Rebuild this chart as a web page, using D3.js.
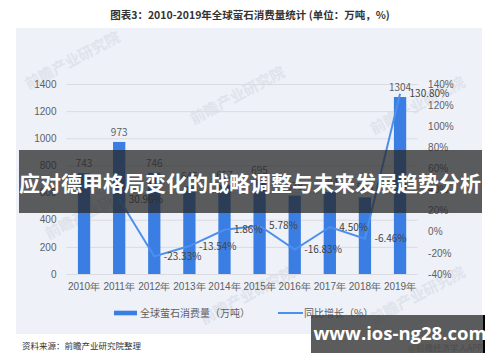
<!DOCTYPE html>
<html>
<head>
<meta charset="utf-8">
<script src="https://cdn.jsdelivr.net/npm/d3@7"></script>
<style>
  html, body { margin: 0; padding: 0; background: #fff; }
  svg { display: block; font-family: "Noto Sans CJK SC", "Noto Sans", sans-serif; }
</style>
</head>
<body>
<div id="chart"></div>
<script>
// 2010-2019 global fluorite consumption (万吨) and YoY growth (%)
const years = ["2010年", "2011年", "2012年", "2013年", "2014年", "2015年", "2016年", "2017年", "2018年", "2019年"];
const consumption = [743, 973, 746, 645, 657, 695, 578, 604, 565, 1304];
const growth = [null, 30.96, -23.33, -13.54, 1.86, 5.78, -16.83, 4.50, -6.46, 130.80];
const leftTicks = [0, 200, 400, 600, 800, 1000, 1200, 1400];
const rightTicks = [-40, -20, 0, 20, 40, 60, 80, 100, 120, 140];

const W = 500, H = 362;
const plot = { left: 66.5, right: 417.6, top: 84, bottom: 274 };
const BAR = "#3b7ee3", LINE = "#4d8fee", TICK = "#5f5f5f";

const svg = d3.select("#chart").append("svg").attr("width", W).attr("height", H);

// panel + title
svg.append("rect").attr("x", 16).attr("y", 28).attr("width", 466).attr("height", 306).attr("fill", "#eef1f8");
svg.append("text").attr("x", 250).attr("y", 15).attr("dy", "0.35em").attr("text-anchor", "middle")
  .attr("font-size", 10.5).attr("font-weight", 700).attr("fill", "#333")
  .text("图表3：2010-2019年全球萤石消费量统计 (单位：万吨，%)");

// faint watermarks
for (const [wx, wy] of [[75, 65], [240, 100], [420, 110], [95, 215], [250, 300], [420, 300]]) {
  svg.append("text").attr("transform", `translate(${wx},${wy}) rotate(-28)`)
    .attr("text-anchor", "middle").attr("font-size", 15).attr("font-weight", 700)
    .attr("fill", "#c9cfdc").attr("opacity", 0.4).text("前瞻产业研究院");
}

const x = d3.scaleBand().domain(years).range([plot.left, plot.right]).padding(0);
const bw = x.bandwidth() * 0.35;
const cx = d => x(d) + x.bandwidth() / 2;
const yL = d3.scaleLinear().domain([0, 1400]).range([plot.bottom, plot.top]);
const yR = d3.scaleLinear().domain([-40, 140]).range([plot.bottom, plot.top]);

// left axis with gridlines
const gl = svg.append("g").attr("transform", `translate(${plot.left},0)`)
  .call(d3.axisLeft(yL).tickValues(leftTicks).tickFormat(d3.format("d"))
    .tickSize(-(plot.right - plot.left)).tickPadding(10));
gl.select(".domain").remove();
gl.selectAll("line").attr("stroke", "#d9dbe0");
gl.selectAll("text").attr("fill", TICK).attr("font-size", 10).attr("font-family", null);

// right axis
const gr = svg.append("g").attr("transform", `translate(${plot.right},0)`)
  .call(d3.axisRight(yR).tickValues(rightTicks).tickSize(0).tickPadding(10.5).tickFormat(d => d + "%"));
gr.select(".domain").remove();
gr.selectAll("text").attr("fill", TICK).attr("font-size", 10).attr("font-family", null);

// bottom axis
const gb = svg.append("g").attr("transform", `translate(0,${plot.bottom})`)
  .call(d3.axisBottom(x).tickSize(0).tickPadding(9));
gb.select(".domain").remove();
gb.selectAll("text").attr("fill", TICK).attr("font-size", 10).attr("font-family", null);

// bars
const rows = years.map((yr, i) => ({ yr, v: consumption[i], g: growth[i] }));
svg.append("g").selectAll("rect").data(rows).join("rect")
  .attr("x", d => cx(d.yr) - bw / 2).attr("width", bw)
  .attr("y", d => yL(d.v)).attr("height", d => yL(0) - yL(d.v))
  .attr("fill", BAR);
svg.append("g").selectAll("text").data(rows).join("text")
  .attr("x", d => cx(d.yr)).attr("y", d => yL(d.v) - 6)
  .attr("text-anchor", "middle").attr("font-size", 10).attr("fill", TICK)
  .text(d => d.v);

// growth line
const gRows = rows.filter(d => d.g != null);
svg.append("path").datum(gRows)
  .attr("fill", "none").attr("stroke", LINE).attr("stroke-width", 2)
  .attr("d", d3.line().x(d => cx(d.yr)).y(d => yR(d.g)));
svg.append("g").selectAll("text").data(gRows).join("text")
  .attr("x", d => cx(d.yr) + 9.5).attr("y", d => yR(d.g)).attr("dy", "0.35em")
  .attr("font-size", 10).attr("fill", "#444")
  .text(d => d.g.toFixed(2) + "%");

// legend
const lg = svg.append("g").attr("transform", "translate(0,313)");
lg.append("rect").attr("x", 114).attr("y", -2.3).attr("width", 23).attr("height", 4.6).attr("fill", BAR);
lg.append("text").attr("x", 140).attr("dy", "0.35em").attr("font-size", 10).attr("fill", TICK).text("全球萤石消费量（万吨）");
lg.append("line").attr("x1", 278).attr("x2", 303).attr("stroke", LINE).attr("stroke-width", 2);
lg.append("text").attr("x", 304).attr("dy", "0.35em").attr("font-size", 10).attr("fill", TICK).text("同比增长（%）");

// source
svg.append("text").attr("x", 22).attr("y", 346).attr("dy", "0.35em").attr("font-size", 8.5).attr("fill", "#333")
  .text("资料来源：前瞻产业研究院整理");
svg.append("text").attr("x", 483).attr("y", 348).attr("dy", "0.35em").attr("text-anchor", "end")
  .attr("font-size", 8.5).attr("fill", "#777").text("@前瞻经济学人APP");

// overlay banner
svg.append("rect").attr("x", 19).attr("y", 150).attr("width", 463).attr("height", 63).attr("fill", "rgba(40,40,42,0.75)");
svg.append("text").attr("x", 250).attr("y", 184).attr("dy", "0.35em").attr("text-anchor", "middle")
  .attr("font-size", 21).attr("font-weight", 700).attr("fill", "#fff")
  .text("应对德甲格局变化的战略调整与未来发展趋势分析");

// url box
svg.append("rect").attr("x", 311).attr("y", 315).attr("width", 172).attr("height", 38).attr("fill", "rgba(70,70,70,0.88)");
svg.append("rect").attr("x", 483).attr("y", 315).attr("width", 2).attr("height", 38).attr("fill", "#000");
svg.append("text").attr("x", 400).attr("y", 334).attr("dy", "0.35em").attr("text-anchor", "middle")
  .attr("font-size", 18.5).attr("font-weight", 700).attr("fill", "#fff").attr("font-family", "'Open Sans', 'DejaVu Sans', sans-serif")
  .text("www.ios-ng28.com");
</script>
</body>
</html>
